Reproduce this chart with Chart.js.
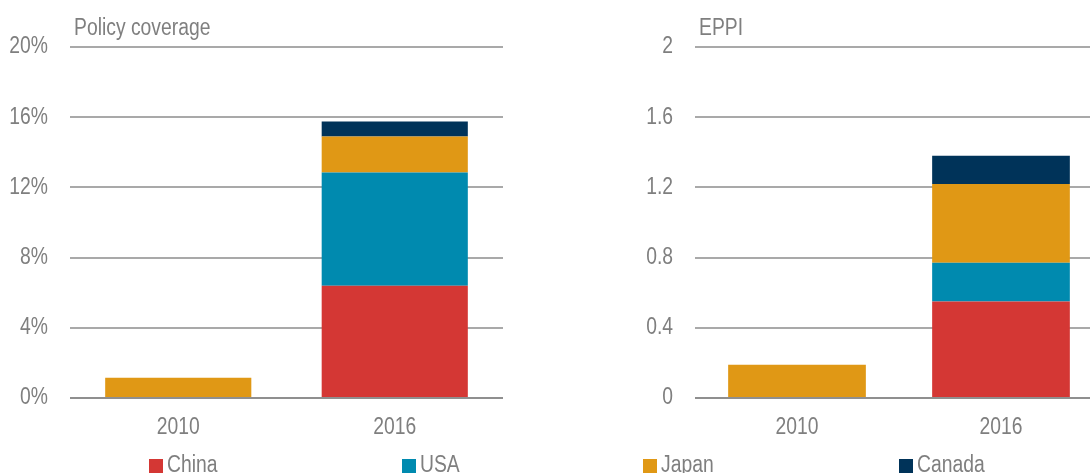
<!DOCTYPE html>
<html>
<head>
<meta charset="utf-8">
<script src="https://cdn.jsdelivr.net/npm/chart.js@4.4.1/dist/chart.umd.min.js"></script>
<style>
  html, body { margin: 0; padding: 0; background: #fff; }
  body { width: 1090px; height: 473px; overflow: hidden; position: relative; }
  .panel { position: absolute; top: 0; height: 473px; }
  #coverage-wrap { left: 0; width: 503px; }
  #eppi-wrap { left: 590px; width: 513px; }
  .legend-item {
    position: absolute; top: 453px; height: 23px;
    font: 23px 'Liberation Sans', Arial, sans-serif;
    line-height: 23px; color: #7f7f7f; white-space: nowrap;
  }
  .legend-item span {
    display: inline-block; transform: scaleX(0.84); transform-origin: left center;
  }
  .legend-item i {
    position: absolute; left: -18px; top: 6px; width: 14px; height: 14px;
  }
</style>
</head>
<body>
<div class="panel" id="coverage-wrap"><canvas id="coverage"></canvas></div>
<div class="panel" id="eppi-wrap"><canvas id="eppi"></canvas></div>
<div id="legend"></div>

<script>
// categories and series
const years = ['2010', '2016'];
const countries = ['China', 'USA', 'Japan', 'Canada'];

// policy coverage, % (stacked by country)
const coverageChina  = [0, 6.4];
const coverageUSA    = [0, 6.45];
const coverageJapan  = [1.15, 2.05];
const coverageCanada = [0, 0.85];

// EPPI (stacked by country)
const eppiChina  = [0, 0.55];
const eppiUSA    = [0, 0.22];
const eppiJapan  = [0.19, 0.45];
const eppiCanada = [0, 0.16];

const coverageTicks = [0, 4, 8, 12, 16, 20];
const eppiTicks = [0, 0.4, 0.8, 1.2, 1.6, 2];

const COLORS = {
    China: '#d43734',
    USA: '#008aaf',
    Japan: '#e09815',
    Canada: '#003359'
};
const TEXT = '#7f7f7f';
const FONT = "'Liberation Sans', Arial, sans-serif";
const NARROW = 0.84;   // horizontal squeeze, narrow-font look

// squeeze every text run drawn on the canvas horizontally
const condensedText = {
    id: 'condensedText',
    beforeDraw(chart) {
        const ctx = chart.ctx;
        const proto = CanvasRenderingContext2D.prototype;
        ctx.fillText = function (text, x, y, maxWidth) {
            const w = this.measureText(text).width * NARROW;
            proto.fillText.call(this, text, x, y, maxWidth !== undefined ? Math.min(maxWidth, w) : w);
        };
    },
    afterDraw(chart) {
        delete chart.ctx.fillText;
    }
};

// small title drawn above the top-left corner of the plot
const panelTitle = {
    id: 'panelTitle',
    afterDatasetsDraw(chart, args, opts) {
        const ctx = chart.ctx;
        ctx.save();
        ctx.font = `23px ${FONT}`;
        ctx.fillStyle = TEXT;
        ctx.textAlign = 'left';
        ctx.textBaseline = 'alphabetic';
        ctx.fillText(opts.text, chart.chartArea.left + 4, 35);
        ctx.restore();
    }
};

function makeDatasets(series) {
    return countries.map((name, i) => ({
        label: name,
        data: series[i],
        backgroundColor: COLORS[name],
        borderWidth: 0,
        categoryPercentage: 1,
        barPercentage: 0.675
    }));
}

function makeChart(canvasId, title, series, ticks, axisWidth, fmt) {
    return new Chart(document.getElementById(canvasId), {
        type: 'bar',
        data: { labels: years, datasets: makeDatasets(series) },
        options: {
            responsive: true,
            maintainAspectRatio: false,
            animation: false,
            layout: { padding: { top: 47, left: 0, right: 0, bottom: 0 } },
            plugins: {
                legend: { display: false },
                tooltip: { enabled: false },
                panelTitle: { text: title }
            },
            scales: {
                x: {
                    stacked: true,
                    grid: { display: false },
                    border: { display: false },
                    ticks: { color: TEXT, font: { family: FONT, size: 23 }, padding: 8 },
                    afterFit: (scale) => { scale.height = 75; }
                },
                y: {
                    stacked: true,
                    min: ticks[0],
                    max: ticks[ticks.length - 1],
                    afterBuildTicks: (scale) => { scale.ticks = ticks.map(v => ({ value: v })); },
                    grid: {
                        color: (c) => c.tick && c.tick.value === 0 ? '#8f8f8f' : '#a9a9a9',
                        lineWidth: 2,
                        drawTicks: false
                    },
                    border: { display: false },
                    ticks: {
                        color: TEXT,
                        font: { family: FONT, size: 23 },
                        padding: 22,
                        callback: fmt
                    },
                    afterFit: (scale) => { scale.width = axisWidth; }
                }
            }
        },
        plugins: [condensedText, panelTitle]
    });
}

makeChart('coverage', 'Policy coverage',
    [coverageChina, coverageUSA, coverageJapan, coverageCanada],
    coverageTicks, 70, (v) => v + '%');

makeChart('eppi', 'EPPI',
    [eppiChina, eppiUSA, eppiJapan, eppiCanada],
    eppiTicks, 105, (v) => String(Number(v.toFixed(1))));

// shared legend along the bottom edge
const legendX = [167, 420, 661, 917];
const legend = document.getElementById('legend');
countries.forEach((name, i) => {
    const item = document.createElement('div');
    item.className = 'legend-item';
    item.style.left = legendX[i] + 'px';
    item.innerHTML = `<i style="background:${COLORS[name]}"></i><span>${name}</span>`;
    legend.appendChild(item);
});
</script>
</body>
</html>
